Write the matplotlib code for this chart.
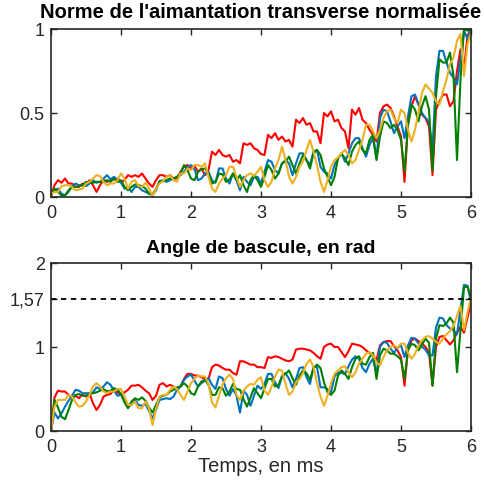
import matplotlib
matplotlib.use("Agg")
import matplotlib.pyplot as plt
import numpy as np

# time grid (ms), 0.05 ms steps
t = [round(i * 0.05, 2) for i in range(121)]

# --- Top panel: normalised transverse magnetisation ---
norm_red = [0.01, 0.07, 0.10, 0.085, 0.11, 0.08, 0.08, 0.06, 0.06, 0.08,
            0.07, 0.10, 0.07, 0.03, 0.07, 0.10, 0.09, 0.10, 0.105, 0.11,
            0.09, 0.10, 0.13, 0.12, 0.13, 0.12, 0.14, 0.11, 0.08, 0.06,
            0.10, 0.13, 0.13, 0.12, 0.13, 0.11, 0.11, 0.15, 0.18, 0.19,
            0.17, 0.185, 0.15, 0.17, 0.13, 0.16, 0.27, 0.25, 0.28, 0.25,
            0.24, 0.25, 0.21, 0.22, 0.20, 0.32, 0.31, 0.32, 0.29, 0.28,
            0.255, 0.25, 0.37, 0.35, 0.38, 0.34, 0.36, 0.33, 0.34, 0.30,
            0.46, 0.44, 0.47, 0.43, 0.44, 0.39, 0.39, 0.32, 0.50, 0.48,
            0.51, 0.45, 0.46, 0.41, 0.39, 0.29, 0.52, 0.49, 0.53, 0.46,
            0.44, 0.40, 0.37, 0.33, 0.50, 0.54, 0.55, 0.53, 0.48, 0.42,
            0.36, 0.09, 0.43, 0.54, 0.60, 0.55, 0.49, 0.47, 0.42, 0.13,
            0.52, 0.57, 0.61, 0.61, 0.54, 0.57, 0.75, 0.88, 0.76, 0.96,
            1.0]
norm_blue = [0.02, 0.04, 0.05, 0.02, 0.01, 0.03, 0.065, 0.08, 0.07, 0.07,
             0.065, 0.08, 0.10, 0.085, 0.09, 0.11, 0.13, 0.105, 0.12, 0.10,
             0.085, 0.05, 0.06, 0.03, 0.06, 0.06, 0.04, 0.03, 0.02, 0.01,
             0.04, 0.095, 0.10, 0.09, 0.10, 0.11, 0.12, 0.13, 0.15, 0.18,
             0.19, 0.165, 0.10, 0.11, 0.14, 0.15, 0.10, 0.085, 0.17, 0.17,
             0.11, 0.08, 0.14, 0.10, 0.04, 0.12, 0.09, 0.07, 0.12, 0.12,
             0.08, 0.15, 0.22, 0.21, 0.16, 0.14, 0.20, 0.22, 0.20, 0.13,
             0.20, 0.26, 0.26, 0.22, 0.19, 0.27, 0.28, 0.18, 0.15, 0.14,
             0.11, 0.19, 0.23, 0.26, 0.21, 0.26, 0.32, 0.35, 0.35, 0.29,
             0.24, 0.31, 0.35, 0.23, 0.47, 0.52, 0.51, 0.45, 0.38, 0.42,
             0.45, 0.35, 0.48, 0.60, 0.61, 0.55, 0.50, 0.47, 0.45, 0.28,
             0.72, 0.87, 0.87, 0.80, 0.74, 0.71, 0.67, 0.82, 0.99, 0.94,
             1.0]
norm_green = [0.01, 0.05, 0.03, 0.01, 0.01, 0.04, 0.06, 0.06, 0.065, 0.07,
              0.09, 0.085, 0.085, 0.09, 0.09, 0.095, 0.10, 0.09, 0.11, 0.09,
              0.10, 0.06, 0.04, 0.06, 0.075, 0.07, 0.065, 0.05, 0.02, 0.015,
              0.05, 0.09, 0.095, 0.10, 0.11, 0.11, 0.12, 0.14, 0.19, 0.16,
              0.11, 0.10, 0.15, 0.165, 0.17, 0.14, 0.08, 0.09, 0.14, 0.135,
              0.09, 0.105, 0.14, 0.10, 0.13, 0.07, 0.03, 0.10, 0.13, 0.10,
              0.06, 0.12, 0.19, 0.16, 0.11, 0.14, 0.20, 0.21, 0.24, 0.19,
              0.14, 0.20, 0.25, 0.22, 0.17, 0.26, 0.28, 0.25, 0.17, 0.12,
              0.07, 0.12, 0.23, 0.26, 0.23, 0.19, 0.27, 0.31, 0.33, 0.28,
              0.26, 0.34, 0.37, 0.22, 0.36, 0.45, 0.44, 0.41, 0.43, 0.40,
              0.34, 0.15, 0.43, 0.55, 0.52, 0.45, 0.54, 0.60, 0.52, 0.16,
              0.60, 0.82, 0.80, 0.80, 0.86, 0.72, 0.22, 0.70, 1.0, 0.99,
              1.0]
norm_yellow = [0.02, 0.03, 0.03, 0.065, 0.07, 0.07, 0.06, 0.04, 0.045, 0.05,
               0.08, 0.09, 0.11, 0.13, 0.125, 0.09, 0.07, 0.08, 0.08, 0.10,
               0.14, 0.11, 0.05, 0.09, 0.10, 0.065, 0.06, 0.085, 0.05, 0.005,
               0.05, 0.08, 0.095, 0.12, 0.13, 0.10, 0.09, 0.14, 0.14, 0.17,
               0.16, 0.19, 0.19, 0.18, 0.20, 0.12, 0.05, 0.03, 0.08, 0.11,
               0.13, 0.18, 0.18, 0.12, 0.06, 0.10, 0.13, 0.14, 0.125, 0.15,
               0.18, 0.10, 0.06, 0.09, 0.17, 0.22, 0.30, 0.22, 0.12, 0.08,
               0.12, 0.18, 0.21, 0.28, 0.34, 0.27, 0.19, 0.09, 0.03, 0.10,
               0.18, 0.22, 0.235, 0.26, 0.28, 0.25, 0.20, 0.22, 0.28, 0.34,
               0.43, 0.43, 0.39, 0.35, 0.40, 0.47, 0.51, 0.52, 0.47, 0.44,
               0.52, 0.50, 0.40, 0.33, 0.40, 0.51, 0.62, 0.67, 0.645, 0.62,
               0.57, 0.55, 0.63, 0.70, 0.79, 0.83, 0.93, 0.97, 0.72, 0.91,
               0.98]

# --- Bottom panel: flip angle (rad) ---
angle_red = [0.0, 0.40, 0.48, 0.47, 0.47, 0.43, 0.40, 0.42, 0.39, 0.44,
             0.41, 0.45, 0.33, 0.25, 0.31, 0.41, 0.43, 0.44, 0.49, 0.46,
             0.43, 0.46, 0.49, 0.54, 0.54, 0.55, 0.52, 0.48, 0.45, 0.37,
             0.42, 0.55, 0.57, 0.53, 0.55, 0.53, 0.49, 0.53, 0.62, 0.68,
             0.68, 0.66, 0.66, 0.64, 0.62, 0.62, 0.76, 0.79, 0.78, 0.75,
             0.73, 0.73, 0.69, 0.67, 0.83, 0.83, 0.81, 0.79, 0.79, 0.76,
             0.76, 0.75, 0.88, 0.87, 0.89, 0.88, 0.86, 0.84, 0.83, 0.85,
             0.97, 0.98, 0.98, 0.97, 0.96, 0.93, 0.89, 0.86, 1.00, 1.03,
             1.04, 1.00, 1.00, 0.94, 0.88, 0.95, 1.04, 1.03, 1.02, 1.00,
             0.96, 0.93, 0.90, 0.84, 1.02, 1.06, 1.07, 1.07, 1.01, 0.96,
             0.88, 0.54, 0.98, 1.08, 1.10, 1.07, 1.04, 1.00, 0.93, 0.54,
             1.00, 1.12, 1.13, 1.08, 1.03, 1.08, 1.17, 1.24, 1.17, 1.35,
             1.52]
angle_blue = [0.0, 0.22, 0.15, 0.21, 0.29, 0.36, 0.42, 0.49, 0.48, 0.45,
              0.45, 0.45, 0.46, 0.52, 0.50, 0.53, 0.58, 0.55, 0.48, 0.42,
              0.43, 0.37, 0.29, 0.31, 0.37, 0.31, 0.30, 0.32, 0.24, 0.15,
              0.25, 0.37, 0.38, 0.39, 0.38, 0.41, 0.49, 0.53, 0.61, 0.65,
              0.67, 0.60, 0.53, 0.57, 0.60, 0.63, 0.55, 0.50, 0.65, 0.63,
              0.50, 0.42, 0.50, 0.42, 0.22, 0.48, 0.43, 0.30, 0.42, 0.54,
              0.50, 0.56, 0.68, 0.68, 0.58, 0.51, 0.65, 0.69, 0.62, 0.52,
              0.62, 0.75, 0.76, 0.64, 0.56, 0.76, 0.76, 0.52, 0.52, 0.50,
              0.46, 0.65, 0.70, 0.69, 0.68, 0.77, 0.85, 0.89, 0.86, 0.75,
              0.70, 0.80, 0.86, 0.68, 1.00, 1.06, 1.05, 0.98, 0.93, 0.99,
              1.02, 0.88, 1.02, 1.11, 1.10, 1.04, 1.00, 0.97, 0.90, 0.90,
              1.23, 1.35, 1.34, 1.26, 1.22, 1.20, 1.15, 1.45, 1.74, 1.73,
              1.53]
angle_green = [0.0, 0.37, 0.28, 0.17, 0.14, 0.25, 0.37, 0.43, 0.44, 0.42,
               0.42, 0.44, 0.45, 0.46, 0.48, 0.50, 0.47, 0.48, 0.51, 0.49,
               0.44, 0.34, 0.27, 0.35, 0.39, 0.37, 0.40, 0.36, 0.28, 0.22,
               0.31, 0.40, 0.42, 0.43, 0.47, 0.49, 0.52, 0.53, 0.57, 0.53,
               0.45, 0.43, 0.53, 0.59, 0.61, 0.55, 0.43, 0.43, 0.52, 0.51,
               0.42, 0.47, 0.56, 0.50, 0.49, 0.38, 0.29, 0.40, 0.51, 0.45,
               0.39, 0.51, 0.62, 0.62, 0.53, 0.55, 0.65, 0.68, 0.72, 0.63,
               0.55, 0.66, 0.72, 0.69, 0.61, 0.75, 0.79, 0.75, 0.58, 0.46,
               0.43, 0.48, 0.66, 0.72, 0.68, 0.62, 0.76, 0.86, 0.89, 0.80,
               0.79, 0.88, 0.93, 0.62, 0.90, 0.98, 0.96, 0.92, 0.92, 0.89,
               0.85, 0.62, 0.96, 1.04, 1.02, 0.96, 1.03, 1.10, 1.05, 0.54,
               1.10, 1.26, 1.25, 1.28, 1.35, 1.29, 0.70, 1.20, 1.71, 1.72,
               1.59]
angle_yellow = [0.0, 0.29, 0.37, 0.37, 0.37, 0.43, 0.41, 0.34, 0.29, 0.30,
                0.35, 0.43, 0.53, 0.57, 0.53, 0.47, 0.45, 0.47, 0.47, 0.50,
                0.50, 0.41, 0.31, 0.31, 0.35, 0.27, 0.27, 0.35, 0.27, 0.07,
                0.26, 0.41, 0.43, 0.43, 0.49, 0.53, 0.50, 0.43, 0.37, 0.47,
                0.57, 0.62, 0.66, 0.65, 0.65, 0.56, 0.34, 0.28, 0.42, 0.55,
                0.63, 0.67, 0.62, 0.43, 0.37, 0.48, 0.53, 0.56, 0.55, 0.61,
                0.64, 0.48, 0.43, 0.52, 0.65, 0.73, 0.72, 0.56, 0.43, 0.47,
                0.58, 0.62, 0.69, 0.80, 0.85, 0.76, 0.57, 0.41, 0.30, 0.42,
                0.57, 0.68, 0.72, 0.76, 0.77, 0.70, 0.64, 0.70, 0.80, 0.86,
                0.92, 0.94, 0.90, 0.82, 0.78, 0.88, 0.96, 1.00, 1.02, 0.99,
                1.04, 1.04, 0.93, 0.86, 0.92, 1.02, 1.08, 1.12, 1.13, 1.10,
                1.06, 1.04, 1.10, 1.15, 1.19, 1.25, 1.37, 1.49, 1.20, 1.41,
                1.59]

ref_angle = 1.57
top_title = "Norme de l'aimantation transverse normalisée"
bottom_title = "Angle de bascule, en rad"
xlabel = "Temps, en ms"
x_ticks = [0, 1, 2, 3, 4, 5, 6]
top_yticks = [0, 0.5, 1]
top_yticklabels = ["0", "0.5", "1"]
bot_yticks = [0, 1, 1.57, 2]
bot_yticklabels = ["0", "1", "1,57", "2"]

colors = {"red": "#FF0000", "blue": "#0072BD", "green": "#008000", "yellow": "#EDB120"}

plt.rcParams["font.family"] = ["Liberation Sans", "DejaVu Sans"]
axcol = "#262626"

fig = plt.figure(figsize=(4.85, 4.90), dpi=100)
ax1 = fig.add_axes([51/485, (490-197)/490, 420/485, 168/490])
ax2 = fig.add_axes([51/485, (490-431)/490, 420/485, 168/490])

def style(ax):
    ax.set_xlim(0, 6)
    ax.set_xticks(x_ticks)
    ax.tick_params(direction="in", top=True, right=True, length=4, width=1,
                   colors=axcol, labelsize=13)
    ax.tick_params(axis="x", pad=6)
    ax.tick_params(axis="y", pad=4.5)
    for s in ax.spines.values():
        s.set_color(axcol)
        s.set_linewidth(1.2)

lw = 1.5
for ax, series in ((ax1, (norm_red, norm_blue, norm_green, norm_yellow)),
                   (ax2, (angle_red, angle_blue, angle_green, angle_yellow))):
    for ys, c in zip(series, ("red", "blue", "green", "yellow")):
        ax.plot(t, ys, color=colors[c], lw=lw)
    style(ax)

ax1.set_ylim(0, 1)
ax1.set_yticks(top_yticks)
ax1.set_yticklabels(top_yticklabels)
ax1.set_title(top_title, fontsize=14.5, fontweight="bold", color="black", pad=8)

ax2.axhline(ref_angle, color="black", lw=1.3, ls=(0, (3, 2.5)))
ax2.set_ylim(0, 2)
ax2.set_yticks(bot_yticks)
ax2.set_yticklabels(bot_yticklabels)
ax2.set_title(bottom_title, fontsize=14, fontweight="bold", color="black", pad=7)
ax2.set_xlabel(xlabel, fontsize=14.5, color=axcol, labelpad=0.5)

fig.savefig("out.png", dpi=100)
